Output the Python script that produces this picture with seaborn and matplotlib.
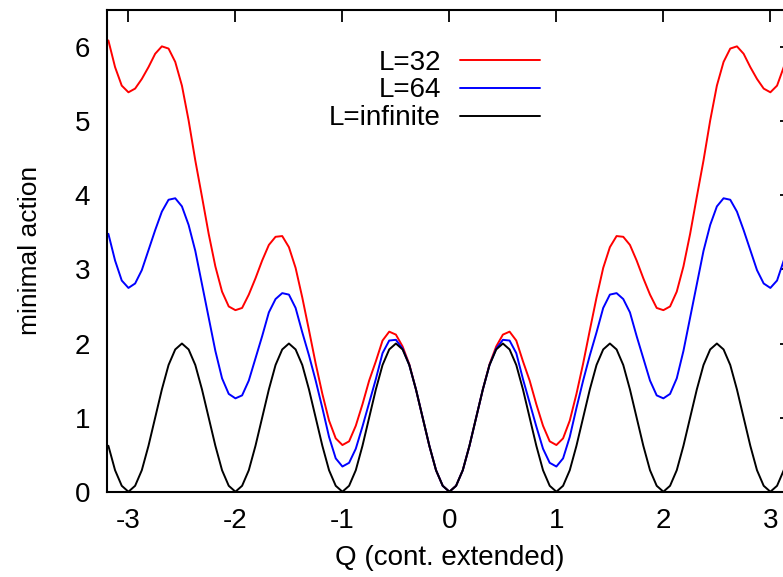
import numpy as np
import pandas as pd
import seaborn as sns
import matplotlib
matplotlib.use("Agg")
import matplotlib.pyplot as plt

# sample grid (step 1/16)
q = np.arange(-51, 52) / 16

act_32 = [6.09, 5.73, 5.48, 5.39, 5.44, 5.57, 5.73, 5.91, 6.01, 5.98, 5.80, 5.48,
          5.01, 4.47, 3.98, 3.48, 3.04, 2.70, 2.50, 2.45, 2.48, 2.66, 2.88, 3.12,
          3.33, 3.44, 3.45, 3.30, 3.02, 2.62, 2.18, 1.73, 1.32, 0.96, 0.72, 0.63,
          0.68, 0.89, 1.18, 1.50, 1.76, 2.04, 2.16, 2.12, 1.96, 1.72, 1.38, 1.00,
          0.62, 0.29, 0.08, 0.00,
          0.08, 0.29, 0.62, 1.00,
          1.38, 1.72, 1.96, 2.12, 2.16, 2.04, 1.76, 1.50, 1.18, 0.89, 0.68, 0.63,
          0.72, 0.96, 1.32, 1.73, 2.18, 2.62, 3.02, 3.30, 3.45, 3.44, 3.33, 3.12,
          2.88, 2.66, 2.48, 2.45, 2.50, 2.70, 3.04, 3.48, 3.98, 4.47, 5.01, 5.48,
          5.80, 5.98, 6.01, 5.91, 5.73, 5.57, 5.44, 5.39, 5.48, 5.73, 6.09]

act_64 = [3.48, 3.12, 2.85, 2.75, 2.81, 2.99, 3.26, 3.53, 3.78, 3.94, 3.96, 3.85,
          3.60, 3.25, 2.80, 2.35, 1.90, 1.53, 1.32, 1.26, 1.30, 1.50, 1.80, 2.10,
          2.42, 2.60, 2.68, 2.66, 2.48, 2.15, 1.84, 1.50, 1.13, 0.74, 0.45, 0.34,
          0.39, 0.58, 0.88, 1.20, 1.52, 1.87, 2.04, 2.05, 1.93, 1.71, 1.38, 1.00,
          0.62, 0.29, 0.08, 0.00,
          0.08, 0.29, 0.62, 1.00,
          1.38, 1.71, 1.93, 2.05, 2.04, 1.87, 1.52, 1.20, 0.88, 0.58, 0.39, 0.34,
          0.45, 0.74, 1.13, 1.50, 1.84, 2.15, 2.48, 2.66, 2.68, 2.60, 2.42, 2.10,
          1.80, 1.50, 1.30, 1.26, 1.32, 1.53, 1.90, 2.35, 2.80, 3.25, 3.60, 3.85,
          3.96, 3.94, 3.78, 3.53, 3.26, 2.99, 2.81, 2.75, 2.85, 3.12, 3.48]

act_inf = [0.62, 0.29, 0.08, 0.00, 0.08, 0.29, 0.62, 1.00, 1.38, 1.71, 1.92, 2.00, 1.92, 1.71, 1.38, 1.00,
           0.62, 0.29, 0.08, 0.00, 0.08, 0.29, 0.62, 1.00, 1.38, 1.71, 1.92, 2.00, 1.92, 1.71, 1.38, 1.00,
           0.62, 0.29, 0.08, 0.00, 0.08, 0.29, 0.62, 1.00, 1.38, 1.71, 1.92, 2.00, 1.92, 1.71, 1.38, 1.00,
           0.62, 0.29, 0.08, 0.00, 0.08, 0.29, 0.62, 1.00, 1.38, 1.71, 1.92, 2.00, 1.92, 1.71, 1.38, 1.00,
           0.62, 0.29, 0.08, 0.00, 0.08, 0.29, 0.62, 1.00, 1.38, 1.71, 1.92, 2.00, 1.92, 1.71, 1.38, 1.00,
           0.62, 0.29, 0.08, 0.00, 0.08, 0.29, 0.62, 1.00, 1.38, 1.71, 1.92, 2.00, 1.92, 1.71, 1.38, 1.00,
           0.62, 0.29, 0.08, 0.00, 0.08, 0.29, 0.62]

labels = ["L=32", "L=64", "L=infinite"]
colors = ["#ff0000", "#0000ff", "#000000"]

df = pd.concat([
    pd.DataFrame({"Q": q, "action": v, "L": lab})
    for v, lab in zip([act_32, act_64, act_inf], labels)
])

sns.set_theme(style="white")
plt.rcParams["font.family"] = ["Liberation Sans", "DejaVu Sans"]
plt.rcParams["axes.unicode_minus"] = False
plt.rcParams["text.color"] = "black"
plt.rcParams["axes.labelcolor"] = "black"
plt.rcParams["xtick.color"] = "black"
plt.rcParams["ytick.color"] = "black"

fig = plt.figure(figsize=(7.83, 5.77), dpi=100)
ax = fig.add_axes([0.1367, 0.1478, 0.8745, 0.8348])

sns.lineplot(data=df, x="Q", y="action", hue="L", palette=colors,
             estimator=None, sort=False, linewidth=1.4, ax=ax)

ax.set_xlim(-3.2, 3.2)
ax.set_ylim(0, 6.5)
ax.set_xticks([-3, -2, -1, 0, 1, 2, 3])
ax.set_yticks([0, 1, 2, 3, 4, 5, 6])
ax.set_xlabel("Q (cont. extended)", fontsize=20, labelpad=8)
ax.set_ylabel("minimal action", fontsize=19, labelpad=24)
ax.tick_params(direction="in", length=8.6, width=1.3, top=True, right=True,
               labelsize=20, colors="black")
ax.tick_params(axis="x", pad=12)
ax.tick_params(axis="y", pad=12)
for s in ax.spines.values():
    s.set_linewidth(1.5)
    s.set_color("black")

ax.legend(loc="center right", bbox_to_anchor=(0.632, 0.833), frameon=False,
          markerfirst=False, fontsize=20, handlelength=2.88, handletextpad=0.68,
          labelspacing=0.07, borderpad=0, borderaxespad=0)

fig.savefig("out.png", dpi=100)
